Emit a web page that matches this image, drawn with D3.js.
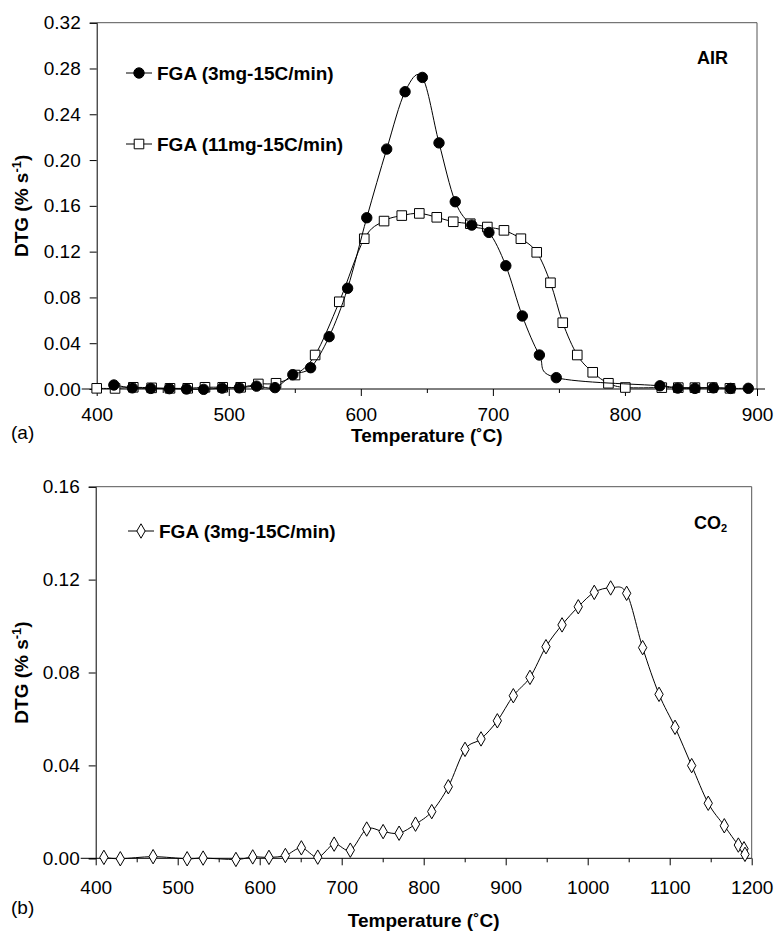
<!DOCTYPE html>
<html lang="en">
<head>
<meta charset="UTF-8">
<title>DTG curves</title>
<script src="https://cdn.jsdelivr.net/npm/d3@7"></script>
<style>
  body { margin: 0; background: #fff; }
  text { font-family: Arial, "Liberation Sans", sans-serif; fill: #000; }
</style>
</head>
<body>
<svg width="774" height="933"></svg>
<script>
// panel (a): AIR, two sample masses
const airSmallT = [413, 427, 441, 455, 468, 481, 495, 508, 521, 535, 548.5, 562, 576, 590, 604.5, 619.6, 633.5, 646.6, 659.2, 671.5, 684, 697, 709.8, 722.3, 735.2, 748, 826.5, 840, 853, 867, 880, 893.4];
const airSmallV = [0.0035, 0.001, 0.0005, 0.0003, 0.0, -0.0003, 0.0008, 0.001, 0.0025, 0.0012, 0.0125, 0.0186, 0.0457, 0.088, 0.1496, 0.2096, 0.2597, 0.2722, 0.215, 0.1636, 0.1432, 0.1368, 0.1077, 0.0638, 0.0297, 0.0099, 0.0028, 0.0008, 0.0005, 0.001, 0.0005, 0.0006];

const airLargeT = [400, 413.9, 427.7, 441.6, 455.5, 468.9, 482, 495.4, 509, 522.4, 535.8, 550.2, 565.4, 583.7, 602.6, 617.6, 631, 644.3, 657.5, 670, 682.9, 695.8, 708.4, 721.2, 733.2, 743.6, 752.9, 763.9, 775.6, 787.5, 800.3, 827.9, 840.4, 853, 866.1, 879.5];
const airLargeV = [0.0006, 0.0005, 0.0015, 0.001, 0.0006, 0.0006, 0.0015, 0.0015, 0.0015, 0.0044, 0.005, 0.0122, 0.0297, 0.0762, 0.1313, 0.1467, 0.1515, 0.1534, 0.1500, 0.1461, 0.1444, 0.1415, 0.1386, 0.1313, 0.1194, 0.0928, 0.0579, 0.0297, 0.0146, 0.005, 0.0013, 0.0012, 0.0012, 0.0012, 0.0012, 0.0006];

// panel (b): CO2
const co2T = [410, 430, 470, 511.5, 531, 571, 591.5, 611.3, 631.3, 650.8, 670.8, 690.8, 710.5, 730.5, 750.5, 770, 790, 809.8, 830, 850.4, 869.9, 889.8, 909.3, 929.6, 949.1, 968.7, 988.5, 1008, 1028, 1047.5, 1067, 1087, 1106.5, 1126.8, 1147, 1166.6, 1183.7, 1190.6, 1191.8];
const co2V = [0.0004, -0.0002, 0.0007, -0.0002, 0.0001, -0.0005, 0.0006, 0.0004, 0.0012, 0.0045, 0.0005, 0.0061, 0.0035, 0.0126, 0.0115, 0.0108, 0.0147, 0.0201, 0.0308, 0.0469, 0.0514, 0.0592, 0.0700, 0.0779, 0.0911, 0.1005, 0.1083, 0.1145, 0.1164, 0.1141, 0.0907, 0.0706, 0.0564, 0.0399, 0.0237, 0.0140, 0.0057, 0.0041, 0.0017];

const labelsA = ["FGA (3mg-15C/min)", "FGA (11mg-15C/min)"];
const labelsB = ["FGA (3mg-15C/min)"];

const svg = d3.select("svg");
const fs = 19;

function panel(o) {
  const x = d3.scaleLinear().domain(o.xDom).range([o.left, o.right]);
  const y = d3.scaleLinear().domain(o.yDom).range([o.bottom, o.top]);
  const g = svg.append("g");

  // frame top/right
  g.append("path")
    .attr("d", `M${o.left},${o.top}H${o.right}V${o.bottom}`)
    .attr("fill", "none").attr("stroke", "#555").attr("stroke-width", 1);

  // y axis
  const ya = g.append("g").attr("transform", `translate(${o.left},0)`)
    .call(d3.axisLeft(y).tickValues(o.yTicks).tickSize(7).tickPadding(9)
      .tickFormat(d3.format(".2f")));
  ya.selectAll("text").style("font-size", fs + "px");
  ya.select(".domain").attr("stroke", "#000");

  // minor x ticks
  g.append("g").attr("transform", `translate(0,${o.bottom})`)
    .call(d3.axisBottom(x).tickValues(o.xMinor).tickSize(4).tickFormat(""))
    .select(".domain").remove();
  const xa = g.append("g").attr("transform", `translate(0,${o.bottom})`)
    .call(d3.axisBottom(x).tickValues(o.xTicks).tickSize(7).tickPadding(o.xPad)
      .tickFormat(d3.format("d")));
  xa.selectAll("text").style("font-size", fs + "px");
  xa.select(".domain").remove();
  g.append("line")
    .attr("x1", o.left - 15).attr("x2", o.right + o.xExt)
    .attr("y1", o.bottom).attr("y2", o.bottom)
    .attr("stroke", "#000");

  // titles
  g.append("text").attr("x", (o.left + o.right) / 2).attr("y", o.xTitleY)
    .attr("text-anchor", "middle").style("font-size", fs + "px")
    .style("font-weight", "bold").text("Temperature (˚C)");
  g.append("text").attr("x", 11).attr("y", o.tagY)
    .style("font-size", fs + "px").text(o.tag);
  const yt = g.append("text")
    .attr("transform", `translate(28,${(o.top + o.bottom) / 2}) rotate(-90)`)
    .attr("text-anchor", "middle").style("font-size", fs + "px")
    .style("font-weight", "bold");
  yt.append("tspan").text("DTG (% s");
  yt.append("tspan").attr("dy", -7).style("font-size", "13px").text("-1");
  yt.append("tspan").attr("dy", 7).text(")");

  return { g, x, y };
}

const line = (x, y) => d3.line().x(d => x(d[0])).y(d => y(d[1])).curve(d3.curveCardinal);

const circ = d3.symbol().type(d3.symbolCircle).size(Math.PI * 27);
const sq = d3.symbol().type(d3.symbolSquare).size(92);
const dia = d3.symbol().type(d3.symbolDiamond).size(60);

function series(p, T, V, sym, fill) {
  const pts = d3.zip(T, V);
  p.g.append("path").datum(pts).attr("d", line(p.x, p.y))
    .attr("fill", "none").attr("stroke", "#000").attr("stroke-width", 1);
  p.g.append("g").selectAll("path").data(pts).join("path")
    .attr("transform", d => `translate(${p.x(d[0])},${p.y(d[1])})`)
    .attr("d", sym).attr("fill", fill).attr("stroke", "#000").attr("stroke-width", 1);
}

function legendItem(g, lx, ly, sym, fill, label) {
  g.append("line").attr("x1", lx - 13).attr("x2", lx + 13).attr("y1", ly).attr("y2", ly)
    .attr("stroke", "#000");
  g.append("path").attr("transform", `translate(${lx},${ly})`).attr("d", sym)
    .attr("fill", fill).attr("stroke", "#000");
  g.append("text").attr("x", lx + 18).attr("y", ly + 7).style("font-size", fs + "px")
    .style("font-weight", "bold").text(label);
}

// panel (a)
const pa = panel({
  xDom: [400, 900], yDom: [0, 0.32], left: 96.7, right: 757, top: 22.7, bottom: 389,
  yTicks: d3.range(0, 0.321, 0.04), xTicks: d3.range(400, 901, 100),
  xMinor: d3.range(450, 900, 100), xExt: 8, xPad: 12, xTitleY: 442, tagY: 439, tag: "(a)"
});
series(pa, airLargeT, airLargeV, sq, "#fff");
series(pa, airSmallT, airSmallV, circ, "#000");
legendItem(pa.g, 139, 73, circ, "#000", labelsA[0]);
legendItem(pa.g, 139, 144, sq, "#fff", labelsA[1]);
pa.g.append("text").attr("x", 697).attr("y", 64).style("font-size", "18px")
  .style("font-weight", "bold").text("AIR");

// panel (b)
const pb = panel({
  xDom: [400, 1200], yDom: [0, 0.16], left: 95.7, right: 751.7, top: 486.7, bottom: 858.3,
  yTicks: d3.range(0, 0.161, 0.04), xTicks: d3.range(400, 1201, 100),
  xMinor: d3.range(450, 1200, 100), xExt: 0, xPad: 15, xTitleY: 927, tagY: 914, tag: "(b)"
});
series(pb, co2T, co2V, dia, "#fff");
legendItem(pb.g, 141, 531, dia, "#fff", labelsB[0]);
const co = pb.g.append("text").attr("x", 694).attr("y", 529).style("font-size", "18px")
  .style("font-weight", "bold");
co.append("tspan").text("CO");
co.append("tspan").attr("dy", 3).style("font-size", "11px").text("2");
</script>
</body>
</html>
